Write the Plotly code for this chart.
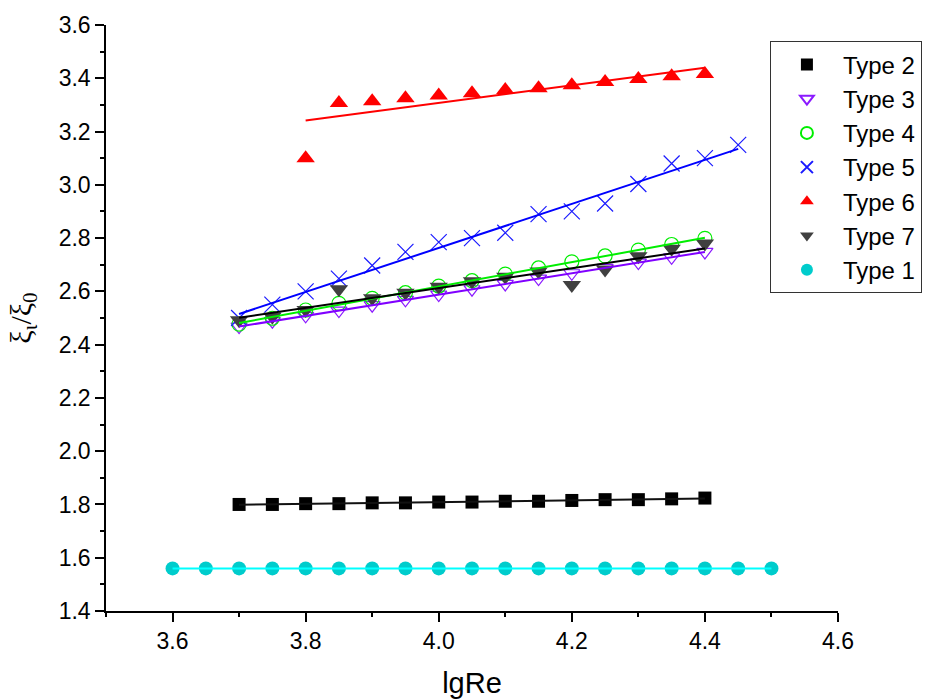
import numpy as np
import plotly.graph_objects as go

# ---- data ----
x_t1 = [3.60, 3.65, 3.70, 3.75, 3.80, 3.85, 3.90, 3.95, 4.00, 4.05, 4.10, 4.15, 4.20, 4.25, 4.30, 4.35, 4.40, 4.45, 4.50]
y_t1 = [1.56] * 19

x_std = [3.70, 3.75, 3.80, 3.85, 3.90, 3.95, 4.00, 4.05, 4.10, 4.15, 4.20, 4.25, 4.30, 4.35, 4.40]
y_t2 = [1.800, 1.800, 1.803, 1.803, 1.806, 1.806, 1.809, 1.809, 1.812, 1.812, 1.815, 1.818, 1.818, 1.821, 1.824]
y_t3 = [2.468, 2.488, 2.508, 2.528, 2.548, 2.568, 2.588, 2.608, 2.628, 2.648, 2.668, 2.688, 2.708, 2.728, 2.748]
y_t4 = [2.477, 2.499, 2.530, 2.555, 2.574, 2.595, 2.620, 2.640, 2.665, 2.688, 2.711, 2.733, 2.755, 2.776, 2.799]
y_t7 = [2.492, 2.505, 2.530, 2.608, 2.574, 2.595, 2.617, 2.638, 2.655, 2.675, 2.624, 2.682, 2.732, 2.760, 2.780]

x_t5 = [3.70, 3.75, 3.80, 3.85, 3.90, 3.95, 4.00, 4.05, 4.10, 4.15, 4.20, 4.25, 4.30, 4.35, 4.40, 4.45]
y_t5 = [2.500, 2.550, 2.600, 2.648, 2.697, 2.748, 2.785, 2.800, 2.820, 2.890, 2.900, 2.930, 3.003, 3.080, 3.100, 3.150]

x_t6 = [3.80, 3.85, 3.90, 3.95, 4.00, 4.05, 4.10, 4.15, 4.20, 4.25, 4.30, 4.35, 4.40]
y_t6 = [3.100, 3.307, 3.314, 3.325, 3.335, 3.344, 3.356, 3.363, 3.374, 3.386, 3.397, 3.408, 3.416]

series = [
    # name, x, y, symbol, marker color, size, outline width, fit line color
    ("Type 2", x_std, y_t2, "square", "#000000", 13, 0, "#111111"),
    ("Type 3", x_std, y_t3, "triangle-down-open", "#8B1AFF", 14, 1.2, "#8000FF"),
    ("Type 4", x_std, y_t4, "circle-open", "#00EE00", 14, 1.2, "#00EE00"),
    ("Type 5", x_t5, y_t5, "x-thin-open", "#1A1AFF", 16, 1.2, "#0000FF"),
    ("Type 6", x_t6, y_t6, "triangle-up", "#FF0000", 16, 0, "#FF0000"),
    ("Type 7", x_std, y_t7, "triangle-down", "#404040", 16, 0, "#000000"),
    ("Type 1", x_t1, y_t1, "circle", "#00CCCC", 14, 0, "#00FFFF"),
]

fig = go.Figure()

for name, xs, ys, sym, col, size, lw, lcol in series:
    fig.add_trace(go.Scatter(
        x=xs, y=ys, mode="markers", name=name,
        marker=dict(symbol=sym, color=col, size=size,
                    line=dict(width=lw, color=col)),
    ))

for name, xs, ys, sym, col, size, lw, lcol in series:
    xa = np.array(xs)
    ya = np.array(ys)
    k, b = np.polyfit(xa, ya, 1)
    xf = [xa.min(), xa.max()]
    yf = [k * v + b for v in xf]
    fig.add_trace(go.Scatter(
        x=xf, y=yf, mode="lines", showlegend=False, hoverinfo="skip",
        line=dict(color=lcol, width=2),
    ))

SANS = "Liberation Sans, Arial, sans-serif"

fig.update_layout(
    width=934, height=699,
    margin=dict(l=106, r=96, t=25, b=88),
    paper_bgcolor="white", plot_bgcolor="white",
    legend=dict(
        x=0.907, y=0.972, xanchor="left", yanchor="top",
        bordercolor="#333333", borderwidth=1, bgcolor="white",
        font=dict(family=SANS, size=24, color="black"),
        itemsizing="constant", tracegroupgap=0, itemwidth=62,
    ),
    showlegend=True,
)

fig.update_xaxes(
    range=[3.5, 4.6], tick0=3.6, dtick=0.2, tickformat=".1f", automargin=False,
    showline=True, linecolor="black", linewidth=1.5,
    ticks="outside", ticklen=9, tickwidth=1.5, tickcolor="black",
    showgrid=False, zeroline=False, mirror=False,
    tickfont=dict(family=SANS, size=23, color="black"),
    minor=dict(dtick=0.1, tick0=3.5, ticklen=4, tickwidth=1.5, tickcolor="black", ticks="outside", showgrid=False),
    title=dict(text="lgRe", font=dict(family=SANS, size=29, color="black"), standoff=20),
)
fig.update_yaxes(
    range=[1.4, 3.6], tick0=1.4, dtick=0.2, tickformat=".1f", automargin=False,
    showline=True, linecolor="black", linewidth=1.5,
    ticks="outside", ticklen=9, tickwidth=1.5, tickcolor="black",
    showgrid=False, zeroline=False, mirror=False,
    tickfont=dict(family=SANS, size=23, color="black"),
    minor=dict(dtick=0.1, tick0=1.4, ticklen=4, tickwidth=1.5, tickcolor="black", ticks="outside", showgrid=False),
    title=dict(text="ξ<sub>ι</sub>/ξ<sub>0</sub>", font=dict(family="Liberation Serif, Times New Roman, serif", size=30, color="black"), standoff=18),
)

fig.write_html("out.html")
